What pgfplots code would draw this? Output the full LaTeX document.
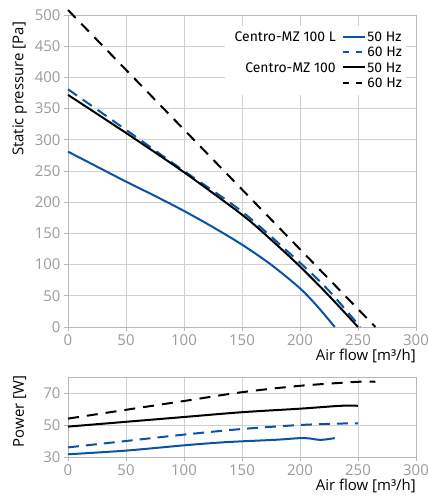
\documentclass[border=0pt]{standalone}
\usepackage{fontspec}
\setmainfont{Open Sans}
\newfontfamily\legfont{Fira Sans}
\usepackage{pgfplots}
\pgfplotsset{compat=1.18}
\definecolor{cblue}{HTML}{0B52A6}
\definecolor{tickgray}{HTML}{9A9A9A}
\definecolor{gridgray}{HTML}{D0D0D0}
\definecolor{axgray}{HTML}{B8B8B8}
\pgfplotsset{mystyle/.style={
  scale only axis, width=348bp,
  xmin=0, xmax=300, xtick={0,50,...,300},
  grid=major, grid style={gridgray, line width=0.8bp},
  axis line style={axgray, line width=0.8bp},
  tick style={axgray, line width=0.8bp},
  tick align=outside, major tick length=4bp,
  xtick pos=left, ytick pos=left,
  ticklabel style={font=\fontsize{15}{18}\selectfont, text=tickgray},
  /pgf/number format/assume math mode=true,
  label style={font=\fontsize{15}{18}\selectfont},
  xlabel={Air flow [m³/h]},
  xlabel style={at={(axis description cs:1,0)}, anchor=base east, inner sep=0pt, yshift=-33.5bp},
  clip=false,
}}
\begin{document}
\begin{tikzpicture}
\path[use as bounding box] (-68bp,-169bp) rectangle (360bp,327bp);
\begin{axis}[mystyle, height=312bp,
  ymin=0, ymax=500, ytick={0,50,...,500},
  ylabel={Static pressure [Pa]},
  ylabel style={at={(axis description cs:-0.139,0.763)}, anchor=center},
]
\addplot[cblue, line width=2bp, smooth] coordinates {(0,281) (25,257) (50,233) (75,210) (100,186) (125,160) (150,132) (175,100) (200,62) (215,33) (230,0)};
\addplot[cblue, line width=2bp, dash pattern=on 11bp off 7bp, smooth] coordinates {(0,381) (50,316) (100,250) (150,185) (200,103) (225,58) (252,0)};
\addplot[black, line width=2bp, smooth] coordinates {(0,372) (50,311) (100,248) (150,180) (175,140) (200,97) (225,50) (250,0)};
\addplot[black, line width=2bp, dash pattern=on 11bp off 8bp] coordinates {(0,508) (265,0)};
\fill[white] (axis cs:135,371) rectangle (axis cs:291,482);
\draw[cblue, line width=2bp] (axis cs:237,465) -- (axis cs:256,465);
\draw[cblue, line width=2bp, dash pattern=on 6bp off 7bp] (axis cs:237,441) -- (axis cs:256,441);
\draw[black, line width=2bp] (axis cs:237,416) -- (axis cs:256,416);
\draw[black, line width=2bp, dash pattern=on 6bp off 7bp] (axis cs:237,391) -- (axis cs:256,391);
\node[anchor=west, inner sep=0pt, font=\legfont\fontsize{14}{16}\selectfont] at (axis cs:258,465) {50 Hz};
\node[anchor=west, inner sep=0pt, font=\legfont\fontsize{14}{16}\selectfont] at (axis cs:258,441) {60 Hz};
\node[anchor=west, inner sep=0pt, font=\legfont\fontsize{14}{16}\selectfont] at (axis cs:258,416) {50 Hz};
\node[anchor=west, inner sep=0pt, font=\legfont\fontsize{14}{16}\selectfont] at (axis cs:258,391) {60 Hz};
\node[anchor=east, inner sep=0pt, font=\legfont\fontsize{14}{16}\selectfont] at (axis cs:231,465) {Centro-MZ 100 L};
\node[anchor=east, inner sep=0pt, font=\legfont\fontsize{14}{16}\selectfont] at (axis cs:231,416) {Centro-MZ 100};
\end{axis}
\begin{axis}[mystyle, at={(0,-130bp)}, height=80bp,
  ymin=30, ymax=80, ytick={30,50,70},
  ylabel={Power [W]},
  ylabel style={at={(axis description cs:-0.139,0.567)}, anchor=center},
]
\addplot[cblue, line width=2bp, smooth] coordinates {(0,31.7) (50,34) (100,37.3) (130,39) (150,39.8) (180,40.8) (200,41.8) (208,41.6) (218,40.7) (230,41.8)};
\addplot[cblue, line width=2bp, dash pattern=on 11bp off 7bp, smooth] coordinates {(0,36) (50,40) (100,44) (150,47.5) (200,50) (240,51) (250,51)};
\addplot[black, line width=2bp, smooth] coordinates {(0,49) (50,52) (100,55) (150,58) (200,60.2) (235,62) (250,62)};
\addplot[black, line width=2bp, dash pattern=on 11bp off 8bp, smooth] coordinates {(0,54) (50,59.5) (100,65) (150,70.5) (200,74.5) (250,77) (265,77)};
\end{axis}
\end{tikzpicture}
\end{document}
